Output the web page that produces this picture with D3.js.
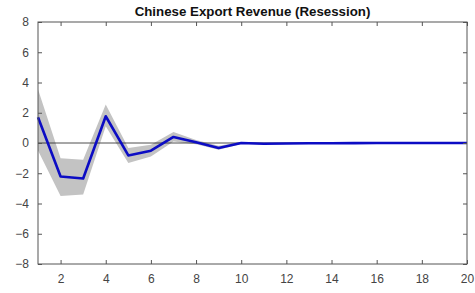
<!DOCTYPE html>
<html>
<head>
<meta charset="utf-8">
<script src="https://cdn.jsdelivr.net/npm/d3@7"></script>
<style>
body { margin: 0; background: #fff; }
svg { font-family: "Liberation Sans", Arial, sans-serif; }
</style>
</head>
<body>
<svg id="canvas" width="475" height="293"></svg>
<script>
let periods = d3.range(1, 21)
let meanValues = [1.7, -2.22, -2.35, 1.77, -0.82, -0.51, 0.4, 0.05, -0.33, 0.0, -0.05, -0.03, -0.02, -0.02, -0.01, 0.0, 0.0, 0.0, 0.0, 0.0]
let upperBand = [3.55, -1.0, -1.1, 2.55, -0.33, -0.12, 0.72, 0.2, -0.18, 0.06, 0.02, 0.02, 0.02, 0.02, 0.02, 0.03, 0.02, 0.02, 0.02, 0.02]
let lowerBand = [-0.5, -3.5, -3.4, 1.1, -1.33, -0.9, 0.1, -0.08, -0.45, -0.06, -0.1, -0.07, -0.05, -0.05, -0.04, -0.03, -0.03, -0.03, -0.03, -0.03]
let xTicks = [2, 4, 6, 8, 10, 12, 14, 16, 18, 20]
let yTicks = [-8, -6, -4, -2, 0, 2, 4, 6, 8]
let title = "Chinese Export Revenue (Resession)"

let canvas = d3.select("#canvas")
let plotLeft = 38, plotRight = 467, plotTop = 22, plotBottom = 264

let xScale = d3.scaleLinear().domain([1, 20]).range([plotLeft, plotRight])
let yScale = d3.scaleLinear().domain([-8, 8]).range([plotBottom, plotTop])

let rows = periods.map((p, i) => ({ p: p, m: meanValues[i], hi: upperBand[i], lo: lowerBand[i] }))

// confidence band
canvas.append("path")
    .datum(rows)
    .attr("fill", "#c3c3c3")
    .attr("d", d3.area()
        .x((d) => xScale(d.p))
        .y0((d) => yScale(d.lo))
        .y1((d) => yScale(d.hi)))

// zero line
canvas.append("line")
    .attr("x1", plotLeft).attr("x2", plotRight)
    .attr("y1", yScale(0)).attr("y2", yScale(0))
    .attr("stroke", "#222")
    .attr("stroke-width", 0.8)

// response line
canvas.append("path")
    .datum(rows)
    .attr("fill", "none")
    .attr("stroke", "#0c0cc4")
    .attr("stroke-width", 2.6)
    .attr("stroke-linejoin", "round")
    .attr("d", d3.line()
        .x((d) => xScale(d.p))
        .y((d) => yScale(d.m)))

let tickStyle = (g) => {
    g.select(".domain").remove()
    g.selectAll("line").attr("stroke", "#555")
    g.selectAll("text").attr("fill", "#444").style("font-size", "12px")
}

canvas.append("g")
    .attr("transform", "translate(0," + plotBottom + ")")
    .call(d3.axisBottom(xScale).tickValues(xTicks).tickSizeInner(-4).tickSizeOuter(0).tickPadding(10))
    .call(tickStyle)

canvas.append("g")
    .attr("transform", "translate(0," + plotTop + ")")
    .call(d3.axisTop(xScale).tickValues(xTicks).tickSizeInner(-4).tickSizeOuter(0).tickFormat(""))
    .call(tickStyle)

canvas.append("g")
    .attr("transform", "translate(" + plotLeft + ",0)")
    .call(d3.axisLeft(yScale).tickValues(yTicks).tickSizeInner(-4).tickSizeOuter(0).tickPadding(9))
    .call(tickStyle)

canvas.append("g")
    .attr("transform", "translate(" + plotRight + ",0)")
    .call(d3.axisRight(yScale).tickValues(yTicks).tickSizeInner(-4).tickSizeOuter(0).tickFormat(""))
    .call(tickStyle)

// box
canvas.append("rect")
    .attr("x", plotLeft).attr("y", plotTop)
    .attr("width", plotRight - plotLeft).attr("height", plotBottom - plotTop)
    .attr("fill", "none")
    .attr("stroke", "#555")
    .attr("stroke-width", 1)

canvas.append("text")
    .attr("x", (plotLeft + plotRight) / 2)
    .attr("y", 16)
    .attr("text-anchor", "middle")
    .attr("font-weight", "bold")
    .style("font-size", "13.3px")
    .attr("fill", "#111")
    .text(title)
</script>
</body>
</html>
